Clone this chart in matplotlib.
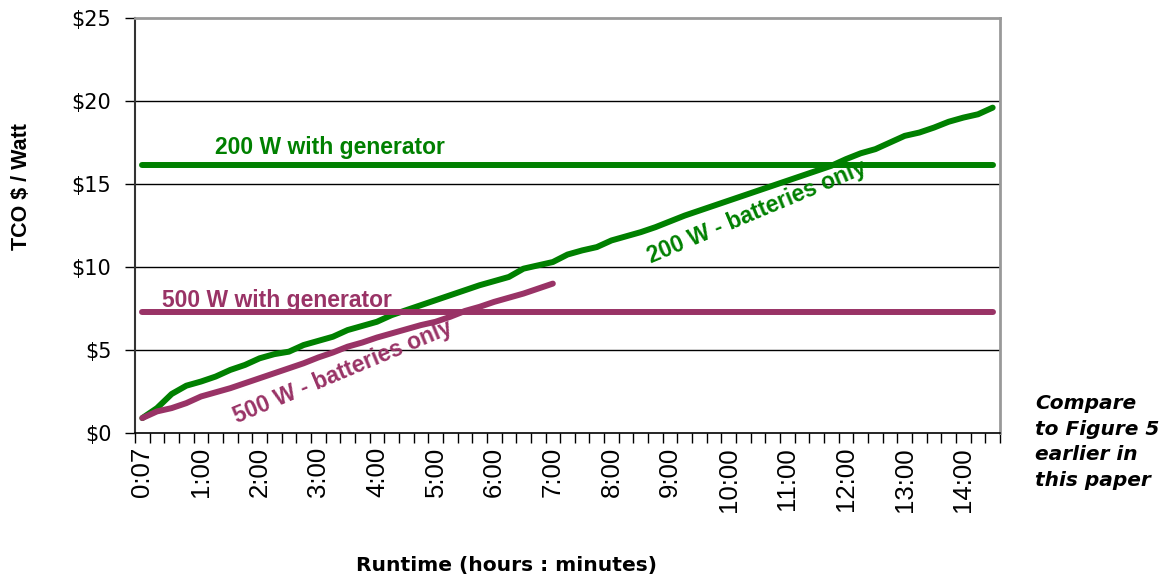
#%% Imports
import matplotlib
matplotlib.use("Agg")
import matplotlib.pyplot as plt
import numpy as np

#%% Data
# runtime categories (hours:minutes)
runtime = ["0:07", "0:15", "0:30", "0:45",
           "1:00", "1:15", "1:30", "1:45", "2:00", "2:15", "2:30", "2:45",
           "3:00", "3:15", "3:30", "3:45", "4:00", "4:15", "4:30", "4:45",
           "5:00", "5:15", "5:30", "5:45", "6:00", "6:15", "6:30", "6:45",
           "7:00", "7:15", "7:30", "7:45", "8:00", "8:15", "8:30", "8:45",
           "9:00", "9:15", "9:30", "9:45", "10:00", "10:15", "10:30", "10:45",
           "11:00", "11:15", "11:30", "11:45", "12:00", "12:15", "12:30", "12:45",
           "13:00", "13:15", "13:30", "13:45", "14:00", "14:15", "14:30"]

# TCO $ / Watt
w200_batt = [0.9, 1.5, 2.35, 2.85, 3.1, 3.4, 3.8, 4.1, 4.5, 4.75,
             4.9, 5.3, 5.55, 5.8, 6.2, 6.45, 6.7, 7.1, 7.4, 7.7,
             8.0, 8.3, 8.6, 8.9, 9.15, 9.4, 9.9, 10.1, 10.3, 10.75,
             11.0, 11.2, 11.6, 11.85, 12.1, 12.4, 12.75, 13.1, 13.4, 13.7,
             14.0, 14.3, 14.6, 14.9, 15.2, 15.5, 15.8, 16.1, 16.5, 16.85,
             17.1, 17.5, 17.9, 18.1, 18.4, 18.75, 19.0, 19.2, 19.6]
w500_batt = [0.9, 1.3, 1.5, 1.8, 2.2, 2.45, 2.7, 3.0, 3.3, 3.6,
             3.9, 4.2, 4.55, 4.85, 5.2, 5.45, 5.75, 6.0, 6.25, 6.5,
             6.7, 7.0, 7.35, 7.6, 7.9, 8.15, 8.4, 8.7, 9.0]
w200_gen = [16.15] * len(runtime)
w500_gen = [7.3] * len(runtime)

green = "#008000"
plum = "#993366"

#%% Plot
fig = plt.figure(figsize=(11.67, 5.84), dpi=100)
ax = fig.add_axes([135 / 1167, 151 / 584, 865 / 1167, 415 / 584])

x = np.arange(len(runtime))
lw = 4.3
ax.plot(x, w200_batt, color=green, lw=lw, solid_capstyle="round", solid_joinstyle="round")
ax.plot(x, w200_gen, color=green, lw=lw, solid_capstyle="round")
ax.plot(x[:len(w500_batt)], w500_batt, color=plum, lw=lw, solid_capstyle="round", solid_joinstyle="round")
ax.plot(x, w500_gen, color=plum, lw=lw, solid_capstyle="round")

# series labels
lab = dict(family="Liberation Sans", fontsize=16.5, fontweight="bold")
ax.text(4.96, 16.8, "200 W with generator", color=green, ha="left", va="baseline", **lab)
ax.text(1.32, 7.57, "500 W with generator", color=plum, ha="left", va="baseline", **lab)
ax.text(41.9, 13.3, "200 W - batteries only", color=green, ha="center", va="center",
        rotation=22.7, rotation_mode="anchor", **lab)
ax.text(13.7, 3.7, "500 W - batteries only", color=plum, ha="center", va="center",
        rotation=22.7, rotation_mode="anchor", **lab)

#%% Axes
ax.set_xlim(-0.5, len(runtime) - 0.5)
ax.set_ylim(0, 25)

yt = [0, 5, 10, 15, 20, 25]
ax.set_yticks(yt)
ax.set_yticklabels(["$%d" % v for v in yt], family="DejaVu Sans", fontsize=15)
ax.tick_params(axis="y", length=7, width=1, pad=10, color="black")
for v in yt[1:-1]:
    ax.axhline(v, color="black", lw=1, zorder=0)

ax.set_xticks(x[::4])
ax.set_xticklabels(runtime[::4], rotation=90, family="Liberation Sans", fontsize=18.5,
                   va="top", ha="center")
ax.tick_params(axis="x", which="major", length=0, pad=10)
ax.set_xticks(np.arange(len(runtime) + 1) - 0.5, minor=True)
ax.tick_params(axis="x", which="minor", length=7, width=1, color="black")

ax.spines["left"].set_color("#333333")
ax.spines["left"].set_linewidth(1.5)
ax.spines["bottom"].set_color("black")
ax.spines["bottom"].set_linewidth(1.2)
ax.spines["top"].set_color("#999999")
ax.spines["top"].set_linewidth(2)
ax.spines["right"].set_color("#999999")
ax.spines["right"].set_linewidth(2)

fig.text(22 / 1167, 1 - 187 / 584, "TCO $ / Watt", rotation=90, ha="center", va="center",
         family="Liberation Sans", fontsize=15.5, fontweight="bold")
fig.text(507 / 1167, 1 - 566 / 584, "Runtime (hours : minutes)", ha="center", va="center",
         family="DejaVu Sans", fontsize=14.6, fontweight="bold")
fig.text(1035 / 1167, 1 - 394 / 584, "Compare\nto Figure 5\nearlier in\nthis paper",
         ha="left", va="top", family="DejaVu Sans", fontsize=14.5, fontweight="bold",
         style="italic", linespacing=1.45)

fig.savefig("out.png", dpi=100)
